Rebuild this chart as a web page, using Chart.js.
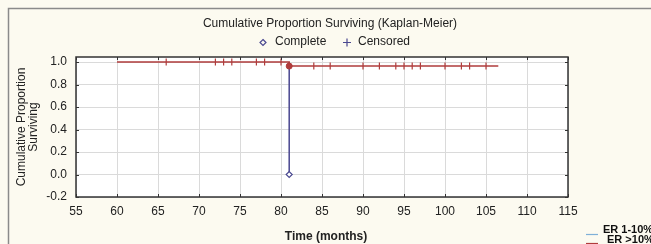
<!DOCTYPE html>
<html>
<head>
<meta charset="utf-8">
<script src="https://cdn.jsdelivr.net/npm/chart.js@4"></script>
<style>
  body { margin: 0; background: #fcfaf0; }
  canvas { display: block; }
</style>
</head>
<body>
<canvas id="kmChart" width="651" height="244"></canvas>
<script>
// Kaplan-Meier data
const xTicks = [55, 60, 65, 70, 75, 80, 85, 90, 95, 100, 105, 110, 115];
const yTicks = [-0.2, 0.0, 0.2, 0.4, 0.6, 0.8, 1.0];

// ER 1-10% (blue): single complete event at 81 months
const blueTimes = [81, 81];
const blueSurv = [1.0, 0.0];

// ER >10% (red): survival curve
const redTimes = [60, 81, 81, 106.5];
const redSurv = [1.0, 1.0, 0.964, 0.964];
const redCompleteTime = [81];
const redCompleteSurv = [0.964];

// censored observations (red ticks)
const censorTimesHigh = [66, 72, 73, 74, 77, 78, 80];
const censorTimesLow = [84, 86, 90, 92, 94, 95, 96, 97, 100, 102, 103, 105];
const censorSurvHigh = 1.0;
const censorSurvLow = 0.964;

const FONT = '"Liberation Sans", Arial, sans-serif';
const BLUE = '#4a4890';
const RED = '#b03c3c';

function pts(xs, ys) {
    return xs.map((x, i) => ({ x: x, y: Array.isArray(ys) ? ys[i] : ys }));
}

// Draw backgrounds, frame, inner ticks and all free text
const decorPlugin = {
    id: 'decor',
    beforeDraw(chart) {
        const ctx = chart.ctx;
        const a = chart.chartArea;
        ctx.save();
        ctx.fillStyle = '#fcfaf0';
        ctx.fillRect(0, 0, chart.width, chart.height);
        ctx.strokeStyle = '#8a8a8a';
        ctx.lineWidth = 1.5;
        ctx.strokeRect(8.5, 8.5, 800, 400);
        ctx.fillStyle = '#ffffff';
        ctx.fillRect(a.left, a.top, a.right - a.left, a.bottom - a.top);
        ctx.restore();
    },
    afterDraw(chart) {
        const ctx = chart.ctx;
        const a = chart.chartArea;
        const xs = chart.scales.x, ys = chart.scales.y;
        ctx.save();
        // plot frame
        ctx.strokeStyle = '#333';
        ctx.lineWidth = 1.5;
        ctx.strokeRect(a.left, a.top, a.right - a.left, a.bottom - a.top);
        // inward tick marks
        ctx.lineWidth = 1;
        ctx.beginPath();
        xTicks.forEach(v => {
            const px = Math.round(xs.getPixelForValue(v)) + 0.5;
            ctx.moveTo(px, a.bottom); ctx.lineTo(px, a.bottom - 3);
            ctx.moveTo(px, a.top); ctx.lineTo(px, a.top + 3);
        });
        yTicks.forEach(v => {
            const py = Math.round(ys.getPixelForValue(v)) + 0.5;
            ctx.moveTo(a.left, py); ctx.lineTo(a.left + 3, py);
            ctx.moveTo(a.right, py); ctx.lineTo(a.right - 3, py);
        });
        ctx.stroke();

        // title
        ctx.fillStyle = '#222';
        ctx.textAlign = 'center';
        ctx.textBaseline = 'middle';
        ctx.font = '12px ' + FONT;
        ctx.fillText('Cumulative Proportion Surviving (Kaplan-Meier)', 330, 24);

        // symbol legend
        ctx.textAlign = 'left';
        ctx.fillText('Complete', 275, 42);
        ctx.fillText('Censored', 358, 42);
        ctx.strokeStyle = BLUE;
        ctx.lineWidth = 1.2;
        ctx.beginPath();
        ctx.moveTo(263, 39.5); ctx.lineTo(266, 42.5); ctx.lineTo(263, 45.5); ctx.lineTo(260, 42.5);
        ctx.closePath();
        ctx.stroke();
        ctx.beginPath();
        ctx.moveTo(343, 42.5); ctx.lineTo(351, 42.5);
        ctx.moveTo(347, 38.5); ctx.lineTo(347, 46.5);
        ctx.stroke();

        // axis titles
        ctx.fillStyle = '#222';
        ctx.textAlign = 'center';
        ctx.font = 'bold 12px ' + FONT;
        ctx.fillText('Time (months)', 326, 237);
        ctx.font = '12px ' + FONT;
        ctx.translate(22, (a.top + a.bottom) / 2);
        ctx.rotate(-Math.PI / 2);
        ctx.fillText('Cumulative Proportion', 0, 0);
        ctx.fillText('Surviving', 0, 12);
        ctx.setTransform(1, 0, 0, 1, 0, 0);

        // group legend (bottom right)
        ctx.lineWidth = 1.2;
        ctx.strokeStyle = '#7fb0d8';
        ctx.beginPath(); ctx.moveTo(586, 234.5); ctx.lineTo(598, 234.5); ctx.stroke();
        ctx.strokeStyle = RED;
        ctx.beginPath(); ctx.moveTo(586, 243.5); ctx.lineTo(598, 243.5); ctx.stroke();
        ctx.fillStyle = '#111';
        ctx.textAlign = 'left';
        ctx.font = 'bold 11px ' + FONT;
        ctx.fillText('ER 1-10%', 603, 230);
        ctx.fillText('ER >10%', 607, 240);
        ctx.restore();
    }
};

const ctx = document.getElementById('kmChart').getContext('2d');
new Chart(ctx, {
    type: 'scatter',
    data: {
        datasets: [
            {
                label: 'ER 1-10%',
                data: pts(blueTimes, blueSurv),
                showLine: true,
                borderColor: BLUE,
                borderWidth: 1.5,
                pointRadius: [0, 3],
                pointStyle: 'rectRot',
                pointBackgroundColor: '#ffffff',
                pointBorderColor: BLUE,
                pointBorderWidth: 1.2,
                order: 3
            },
            {
                label: 'ER >10%',
                data: pts(redTimes, redSurv),
                showLine: true,
                borderColor: RED,
                borderWidth: 1.5,
                pointRadius: 0,
                order: 2
            },
            {
                label: 'complete',
                data: pts(redCompleteTime, redCompleteSurv),
                pointStyle: 'circle',
                pointRadius: 3,
                pointBackgroundColor: RED,
                pointBorderColor: RED,
                pointBorderWidth: 1,
                order: 1
            },
            {
                label: 'censored high',
                data: pts(censorTimesHigh, censorSurvHigh),
                pointStyle: 'line',
                rotation: 90,
                pointRadius: 3.5,
                pointBorderColor: RED,
                pointBorderWidth: 1.2,
                order: 1
            },
            {
                label: 'censored low',
                data: pts(censorTimesLow, censorSurvLow),
                pointStyle: 'line',
                rotation: 90,
                pointRadius: 3.5,
                pointBorderColor: RED,
                pointBorderWidth: 1.2,
                order: 1
            }
        ]
    },
    options: {
        responsive: false,
        animation: false,
        layout: { padding: { left: 0, top: 57, right: 83, bottom: 0 } },
        plugins: {
            legend: { display: false },
            tooltip: { enabled: false },
            title: { display: false }
        },
        scales: {
            x: {
                type: 'linear',
                min: 55,
                max: 115,
                afterFit: s => { s.height = 47; },
                afterBuildTicks: s => { s.ticks = xTicks.map(v => ({ value: v })); },
                grid: { color: '#dadada', drawTicks: false },
                border: { display: false },
                ticks: {
                    padding: 7,
                    color: '#222',
                    font: { family: FONT, size: 12 },
                    maxRotation: 0,
                    autoSkip: false
                }
            },
            y: {
                type: 'linear',
                min: -0.2,
                max: 1.045,
                afterFit: s => { s.width = 76; },
                afterBuildTicks: s => { s.ticks = yTicks.map(v => ({ value: v })); },
                grid: { color: '#dadada', drawTicks: false },
                border: { display: false },
                ticks: {
                    padding: 9,
                    color: '#222',
                    font: { family: FONT, size: 12 },
                    callback: v => v.toFixed(1)
                }
            }
        }
    },
    plugins: [decorPlugin]
});
</script>
</body>
</html>
